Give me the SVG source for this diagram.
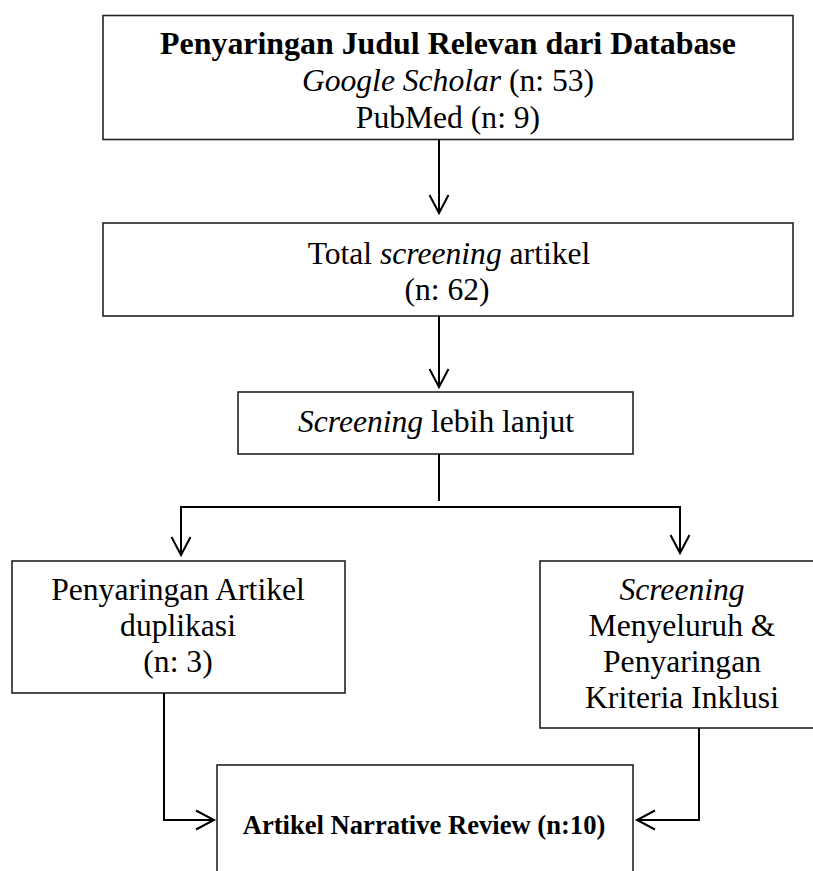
<svg xmlns="http://www.w3.org/2000/svg" width="813" height="871" viewBox="0 0 813 871">
<style>
.box{fill:#fff;stroke:#222;stroke-width:1.6}
.t{font-family:"Liberation Serif","Times New Roman",serif;font-size:31.6px;fill:#000;text-anchor:middle}
.b{font-weight:bold}
.i{font-style:italic}
.c{fill:none;stroke:#000;stroke-width:2}
</style>
<defs>
<marker id="arr" markerUnits="userSpaceOnUse" markerWidth="24" markerHeight="24" viewBox="-20 -12 22 24" refX="0" refY="0" orient="auto">
<path d="M-18,-9.5 L0,0 L-18,9.5" fill="none" stroke="#000" stroke-width="2"/>
</marker>
</defs>
<rect width="813" height="871" fill="#fff"/>
<g id="n1">
<rect class="box" x="103" y="15.5" width="690" height="124"/>
<text class="t b" x="448" y="54" style="font-size:31.9px">Penyaringan Judul Relevan dari Database</text>
<text class="t" x="448" y="91"><tspan class="i">Google Scholar</tspan> (n: 53)</text>
<text class="t" x="448" y="128">PubMed (n: 9)</text>
</g>
<g id="n2">
<rect class="box" x="103" y="223" width="690" height="93"/>
<text class="t" x="449" y="264">Total <tspan class="i">screening</tspan> artikel</text>
<text class="t" x="447" y="300">(n: 62)</text>
</g>
<g id="n3">
<rect class="box" x="238" y="392" width="395" height="62"/>
<text class="t" x="436" y="432"><tspan class="i">Screening</tspan> lebih lanjut</text>
</g>
<g id="n4">
<rect class="box" x="12" y="561" width="333" height="132"/>
<text class="t" x="178" y="600">Penyaringan Artikel</text>
<text class="t" x="178" y="636">duplikasi</text>
<text class="t" x="178" y="672">(n: 3)</text>
</g>
<g id="n5">
<rect class="box" x="540" y="561" width="290" height="167"/>
<text class="t i" x="682" y="600">Screening</text>
<text class="t" x="682" y="636">Menyeluruh &amp;</text>
<text class="t" x="682" y="672">Penyaringan</text>
<text class="t" x="682" y="708">Kriteria Inklusi</text>
</g>
<g id="n6">
<rect class="box" x="217" y="765" width="416" height="130"/>
<text class="t b" x="424" y="834" style="font-size:26.6px">Artikel Narrative Review (n:10)</text>
</g>
<g id="connectors">
<path class="c" d="M439,139.5 V213" marker-end="url(#arr)"/>
<path class="c" d="M439,316 V387" marker-end="url(#arr)"/>
<path class="c" d="M439,454 V501"/>
<path class="c" d="M439,507 H181 V555" marker-end="url(#arr)"/>
<path class="c" d="M439,507 H680 V553" marker-end="url(#arr)"/>
<path class="c" d="M164,693 V820 H214" marker-end="url(#arr)"/>
<path class="c" d="M699,728 V820 H637" marker-end="url(#arr)"/>
</g>
</svg>
